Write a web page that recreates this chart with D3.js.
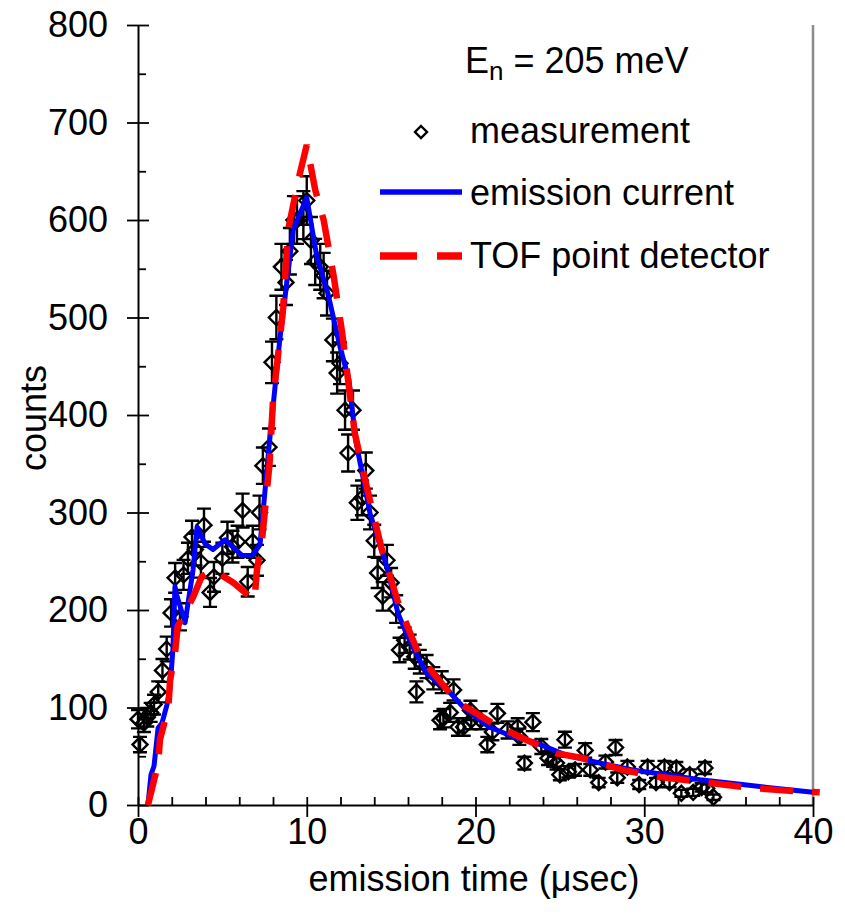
<!DOCTYPE html>
<html>
<head>
<meta charset="utf-8">
<script src="https://cdn.jsdelivr.net/npm/d3@7"></script>
<style>
  body { margin: 0; background: #fff; }
  svg { display: block; }
  text { font-family: Arial, "Liberation Sans", sans-serif; fill: #000; }
</style>
</head>
<body>
<svg id="chart" width="845" height="921"></svg>
<script>
// Measured counts vs emission time (µs)
const measTime = [0.0,0.12,0.35,0.55,0.75,0.95,1.2,1.45,1.7,1.96,2.2,2.49,2.7,2.96,3.2,3.4,3.73,3.91,4.27,4.5,
  5.0,5.3,5.6,5.9,6.2,6.5,6.8,7.05,7.2,7.4,7.76,7.94,8.2,8.5,8.77,9.0,9.24,9.42,9.8,10.0,
  10.25,10.5,10.8,11.0,11.2,11.55,11.8,11.97,12.27,12.45,12.74,13.0,13.27,13.5,13.75,14.0,14.2,14.5,14.75,15.0,
  15.3,15.5,15.8,16.1,16.4,16.5,16.7,17.1,17.5,17.9,18.0,18.1,18.5,18.7,18.96,19.3,19.7,19.75,20.3,20.7,
  21.0,21.3,21.9,22.5,22.6,22.9,23.4,23.9,24.3,24.6,24.8,25.0,25.3,25.5,25.9,26.5,26.8,27.3,27.7,28.3,
  28.4,29.0,29.7,30.2,30.7,31.2,31.5,31.9,32.2,32.7,32.9,33.4,33.6,33.7,34.1];
const measCounts = [88,62,84,90,95,103,116,138,160,197,233,193,236,253,275,262,249,287,218,234,
  253,274,265,270,302,229,270,251,300,348,367,454,500,552,536,568,600,600,605,620,
  579,557,552,543,525,477,443,453,405,361,405,310,315,343,300,271,238,214,251,228,
  201,159,169,162,152,116,147,142,130,87,126,89,95,118,80,80,97,87,87,62,
  75,94,77,80,70,43,85,60,48,46,43,31,67,34,36,56,36,23,44,59,
  28,39,21,39,23,39,23,38,12,31,13,18,38,17,8];

// Model: emission current
const emissionTime = [0.59,0.77,0.95,1.19,1.42,1.72,1.9,2.07,2.19,2.3,2.79,3.26,3.5,3.97,4.44,5.16,6.16,6.76,7.23,7.41,
  7.76,8.4,9.2,10.0,10.6,11.25,11.97,12.5,12.9,13.75,14.75,15.4,15.9,16.4,17.1,18.5,19.3,20.8,22.4,23.4,
  25.4,27.4,29.3,31.3,33.3,35.3,37.3,40.0];
const emissionCounts = [0,31,40,79,84,103,120,160,224,215,187,241,285,268,262,272,256,256,267,300,
  367,477,590,623,562,525,470,436,374,299,244,197,176,158,135,115,100,80,69,65,
  51,43,36,31,26,22,18,13];

// Model: TOF point detector
const tofTime = [0.59,1.2,1.3,1.8,1.9,2.2,2.35,3.26,3.77,4.46,5.65,6.9,7.05,7.35,7.8,8.0,8.4,8.6,8.9,9.5,
  10.0,10.5,11.0,11.6,12.1,12.85,13.6,14.45,15.5,16.7,18.9,21.0,22.6,24.8,26.4,28.7,30.8,36.1,38.2,40.4];
const tofCounts = [0,43,67,100,128,157,183,213,234,241,228,210,241,272,351,415,477,510,590,641,
  677,631,600,542,484,381,323,262,203,152,106,84,70,53,48,36,29,18,15,13];

const xTicks = [0, 10, 20, 30, 40];
const xMinorTicks = d3.range(0, 41, 2).filter(v => v % 10 !== 0);
const yTicks = [0, 100, 200, 300, 400, 500, 600, 700, 800];
const yMinorTicks = [50, 150, 250, 350, 450, 550, 650, 750];

const svg = d3.select("#chart");
const x = d3.scaleLinear().domain([0, 40]).range([138, 813]);
const y = d3.scaleLinear().domain([0, 800]).range([805, 25]);
const FONT = 36;

// right frame edge
svg.append("line")
  .attr("x1", x(40)).attr("x2", x(40)).attr("y1", y(800)).attr("y2", y(0))
  .attr("stroke", "#8c8c8c").attr("stroke-width", 2.5);

// y axis (major ticks cross the axis line, minor ticks point inward)
const yAxisG = svg.append("g").attr("transform", `translate(${x(0)},0)`)
  .call(d3.axisLeft(y).tickValues(yTicks).tickSize(11).tickSizeOuter(0).tickPadding(19));
yAxisG.selectAll(".tick line").attr("x1", 11).attr("stroke-width", 1.8);
yAxisG.select(".domain").attr("stroke-width", 2);
yAxisG.selectAll(".tick text").attr("font-size", FONT).attr("font-family", "Arial, 'Liberation Sans', sans-serif");

svg.append("g").attr("transform", `translate(${x(0)},0)`)
  .call(d3.axisLeft(y).tickValues(yMinorTicks).tickSize(-8).tickSizeOuter(0).tickFormat(""))
  .call(g => g.select(".domain").remove())
  .selectAll(".tick line").attr("stroke-width", 1.8);

// x axis
const xAxisG = svg.append("g").attr("transform", `translate(0,${y(0)})`)
  .call(d3.axisBottom(x).tickValues(xTicks).tickSize(12).tickSizeOuter(0).tickPadding(1));
xAxisG.selectAll(".tick line").attr("y1", -8).attr("stroke-width", 1.8);
xAxisG.select(".domain").attr("stroke-width", 2);
xAxisG.selectAll(".tick text").attr("font-size", FONT).attr("font-family", "Arial, 'Liberation Sans', sans-serif");

svg.append("g").attr("transform", `translate(0,${y(0)})`)
  .call(d3.axisBottom(x).tickValues(xMinorTicks).tickSize(-8).tickSizeOuter(0).tickFormat(""))
  .call(g => g.select(".domain").remove())
  .selectAll(".tick line").attr("stroke-width", 1.8);

// axis titles
svg.append("text")
  .attr("x", 474).attr("y", 891)
  .attr("text-anchor", "middle").attr("font-size", FONT)
  .text("emission time (\u03bcsec)");
svg.append("text")
  .attr("transform", "translate(46,418) rotate(-90)")
  .attr("text-anchor", "middle").attr("font-size", FONT)
  .text("counts");

// measurements with Poisson error bars
const meas = measTime.map((t, i) => ({ t, c: measCounts[i], e: Math.sqrt(measCounts[i]) }));
const capW = 7;
const eb = svg.append("g").attr("stroke", "#000").attr("stroke-width", 2.4).attr("fill", "none");
eb.selectAll("path.err").data(meas).join("path")
  .attr("class", "err")
  .attr("d", d => {
    const px = x(d.t), y1 = y(d.c - d.e), y2 = y(d.c + d.e);
    return `M${px},${y1}V${y2}M${px - capW},${y1}H${px + capW}M${px - capW},${y2}H${px + capW}`;
  });

const diamond = (cx, cy, r) => `M${cx},${cy - r}L${cx + r},${cy}L${cx},${cy + r}L${cx - r},${cy}Z`;
eb.selectAll("path.pt").data(meas).join("path")
  .attr("class", "pt")
  .attr("d", d => diamond(x(d.t), y(d.c), 7.5));

// model curves
const line = d3.line().x(d => x(d[0])).y(d => y(d[1]));
svg.append("path")
  .datum(emissionTime.map((t, i) => [t, emissionCounts[i]]))
  .attr("d", line).attr("fill", "none")
  .attr("stroke", "#0000ff").attr("stroke-width", 5).attr("stroke-linejoin", "round");
svg.append("path")
  .datum(tofTime.map((t, i) => [t, tofCounts[i]]))
  .attr("d", line).attr("fill", "none")
  .attr("stroke", "#ff0000").attr("stroke-width", 6.5).attr("stroke-dasharray", "33,19");

// legend
const lg = svg.append("g");
const title = lg.append("text").attr("x", 465).attr("y", 73).attr("font-size", FONT);
title.append("tspan").text("E");
title.append("tspan").attr("dy", 7).attr("font-size", 26).text("n");
title.append("tspan").attr("dy", -7).text(" = 205 meV");

lg.append("path").attr("d", diamond(421, 132, 6))
  .attr("fill", "none").attr("stroke", "#000").attr("stroke-width", 2.4);
lg.append("text").attr("x", 470).attr("y", 143).attr("font-size", FONT).text("measurement");

lg.append("line").attr("x1", 380).attr("x2", 462).attr("y1", 192).attr("y2", 192)
  .attr("stroke", "#0000ff").attr("stroke-width", 5.5);
lg.append("text").attr("x", 470).attr("y", 205).attr("font-size", FONT).text("emission current");

lg.append("line").attr("x1", 380).attr("x2", 462).attr("y1", 256).attr("y2", 256)
  .attr("stroke", "#ff0000").attr("stroke-width", 7.5).attr("stroke-dasharray", "37,20");
lg.append("text").attr("x", 470).attr("y", 268).attr("font-size", FONT).text("TOF point detector");
</script>
</body>
</html>
